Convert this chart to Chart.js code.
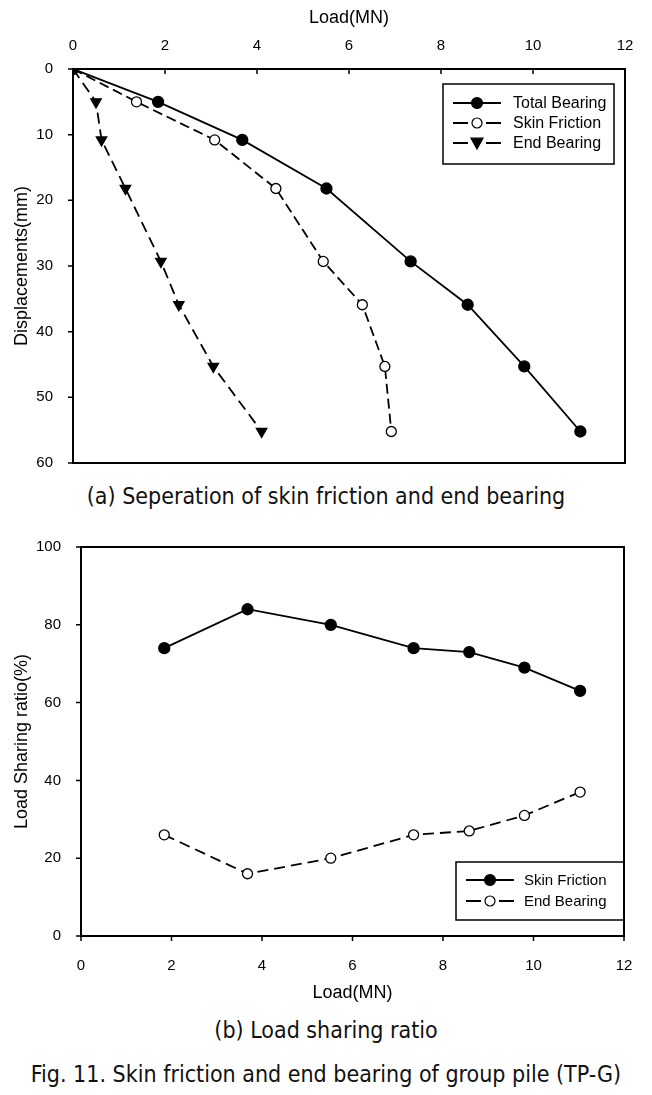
<!DOCTYPE html>
<html>
<head>
<meta charset="utf-8">
<script src="https://cdn.jsdelivr.net/npm/chart.js@4.4.0/dist/chart.umd.min.js"></script>
<style>
body { margin:0; background:#fff; width:652px; height:1095px; position:relative; overflow:hidden; }
.wrap { position:absolute; left:0; width:652px; }
.cap { position:absolute; left:0; width:652px; text-align:center; font-family:"DejaVu Sans Condensed","Liberation Sans Narrow",sans-serif; font-size:23px; line-height:27px; color:#111; white-space:nowrap; }
</style>
</head>
<body>
<div class="wrap" style="top:0;height:480px"><canvas id="chartTop"></canvas></div>
<div class="cap" style="top:483px">(a) Seperation of skin friction and end bearing</div>
<div class="wrap" style="top:510px;height:500px"><canvas id="chartBottom"></canvas></div>
<div class="cap" style="top:1017px">(b) Load sharing ratio</div>
<div class="cap" style="top:1061px">Fig. 11. Skin friction and end bearing of group pile (TP-G)</div>
<script>
// (a) load-displacement
const displacements = [0, 5.0, 10.8, 18.2, 29.3, 35.9, 45.3, 55.2];
const totalBearing = [0, 1.85, 3.68, 5.51, 7.34, 8.58, 9.81, 11.03];
const skinFriction = [0, 1.38, 3.08, 4.41, 5.44, 6.29, 6.78, 6.92];
const endBearing = [0, 0.5, 0.62, 1.14, 1.91, 2.3, 3.05, 4.1];

// (b) load sharing ratio
const loadSteps = [1.84, 3.68, 5.52, 7.35, 8.58, 9.8, 11.03];
const skinRatio = [74, 84, 80, 74, 73, 69, 63];
const endRatio = [26, 16, 20, 26, 27, 31, 37];

const tickFont = { family: '"Liberation Sans", Arial, sans-serif', size: 15 };
const titleFont = { family: '"Liberation Sans", Arial, sans-serif', size: 18 };

function pts(xs, ys) {
    return xs.map((x, i) => ({ x: x, y: ys[i] }));
}

// box round the plot area + short tick marks
const frameTicks = {
    id: 'frameTicks',
    afterDraw(chart, args, opts) {
        const { ctx, chartArea: a, scales } = chart;
        ctx.save();
        ctx.strokeStyle = '#000';
        ctx.lineWidth = 2;
        ctx.strokeRect(a.left, a.top, a.right - a.left, a.bottom - a.top);
        ctx.lineWidth = 1.5;
        const tl = 5;
        ctx.beginPath();
        scales.x.ticks.forEach(t => {
            const px = scales.x.getPixelForValue(t.value);
            if (opts.xTop) { ctx.moveTo(px, a.top); ctx.lineTo(px, a.top + tl); }
            else { ctx.moveTo(px, a.bottom); ctx.lineTo(px, a.bottom + tl); }
        });
        scales.y.ticks.forEach(t => {
            const py = scales.y.getPixelForValue(t.value);
            ctx.moveTo(a.left - tl, py); ctx.lineTo(a.left, py);
        });
        ctx.stroke();
        ctx.restore();
    }
};

// boxed legend inside the plot
const boxLegend = {
    id: 'boxLegend',
    afterDraw(chart, args, opts) {
        const ctx = chart.ctx;
        ctx.save();
        ctx.strokeStyle = '#000';
        ctx.fillStyle = '#000';
        ctx.lineWidth = 1.5;
        ctx.strokeRect(opts.x, opts.y, opts.w, opts.h);
        ctx.font = opts.fontSize + 'px "Liberation Sans", Arial, sans-serif';
        ctx.textBaseline = 'middle';
        chart.data.datasets.forEach((ds, i) => {
            const cy = opts.y + opts.firstRow + i * opts.rowH;
            const x0 = opts.x + 10, x1 = x0 + 48, mx = (x0 + x1) / 2;
            ctx.lineWidth = ds.borderWidth;
            ctx.beginPath();
            if (ds.borderDash && ds.borderDash.length) {
                ctx.moveTo(x0, cy); ctx.lineTo(mx - 9, cy);
                ctx.moveTo(mx + 9, cy); ctx.lineTo(x1, cy);
            } else {
                ctx.moveTo(x0, cy); ctx.lineTo(x1, cy);
            }
            ctx.stroke();
            ctx.lineWidth = 1.2;
            ctx.beginPath();
            const r = ds.pointRadius;
            if (ds.pointStyle === 'triangle') {
                ctx.moveTo(mx - r, cy - r * 0.8);
                ctx.lineTo(mx + r, cy - r * 0.8);
                ctx.lineTo(mx, cy + r);
                ctx.closePath();
            } else {
                ctx.arc(mx, cy, r, 0, Math.PI * 2);
            }
            ctx.fillStyle = ds.pointBackgroundColor;
            ctx.fill();
            ctx.stroke();
            ctx.fillStyle = '#000';
            ctx.fillText(ds.label, opts.x + opts.textX, cy + 1);
        });
        ctx.restore();
    }
};

function series(label, xs, ys, opts) {
    return Object.assign({
        label: label,
        data: pts(xs, ys),
        showLine: true,
        borderColor: '#000',
        borderWidth: 1.8,
        pointRadius: 5.5,
        pointBorderColor: '#000',
        pointBorderWidth: 1.3,
        pointBackgroundColor: '#000',
        pointStyle: 'circle',
        tension: 0
    }, opts);
}

new Chart(document.getElementById('chartTop'), {
    type: 'scatter',
    data: {
        datasets: [
            series('Total Bearing', totalBearing, displacements, {}),
            series('Skin Friction', skinFriction, displacements, { borderDash: [10, 5], pointBackgroundColor: '#fff', pointRadius: 5 }),
            series('End Bearing', endBearing, displacements, { borderDash: [11, 6], pointStyle: 'triangle', pointRotation: 180, pointRadius: 6 })
        ]
    },
    plugins: [frameTicks, boxLegend],
    options: {
        responsive: true,
        maintainAspectRatio: false,
        animation: false,
        layout: { padding: { left: 0, top: 0, right: 27, bottom: 17 } },
        scales: {
            x: {
                type: 'linear', position: 'top', min: 0, max: 12,
                ticks: { stepSize: 2, color: '#000', font: tickFont, padding: 6, maxRotation: 0 },
                grid: { display: false }, border: { display: false },
                title: { display: true, text: 'Load(MN)', color: '#000', font: titleFont, padding: { top: 7, bottom: 0 } },
                afterFit: s => { s.height = 69; }
            },
            y: {
                type: 'linear', reverse: true, min: 0, max: 60,
                ticks: { stepSize: 10, color: '#000', font: tickFont, padding: 12 },
                grid: { display: false }, border: { display: false },
                title: { display: true, text: 'Displacements(mm)', color: '#000', font: titleFont, padding: { top: 11, bottom: 0 } },
                afterFit: s => { s.width = 73; s.paddingTop = 0; s.paddingBottom = 0; }
            }
        },
        plugins: {
            legend: { display: false },
            tooltip: { enabled: false },
            frameTicks: { xTop: true },
            boxLegend: { x: 443, y: 84, w: 171, h: 80, firstRow: 19, rowH: 20, textX: 70, fontSize: 16 }
        }
    }
});

new Chart(document.getElementById('chartBottom'), {
    type: 'scatter',
    data: {
        datasets: [
            series('Skin Friction', loadSteps, skinRatio, {}),
            series('End Bearing', loadSteps, endRatio, { borderDash: [11, 6], pointBackgroundColor: '#fff', pointRadius: 5 })
        ]
    },
    plugins: [frameTicks, boxLegend],
    options: {
        responsive: true,
        maintainAspectRatio: false,
        animation: false,
        layout: { padding: { left: 0, top: 37, right: 28, bottom: 0 } },
        scales: {
            x: {
                type: 'linear', position: 'bottom', min: 0, max: 12,
                ticks: { stepSize: 2, color: '#000', font: tickFont, padding: 13, maxRotation: 0 },
                grid: { display: false }, border: { display: false },
                title: { display: true, text: 'Load(MN)', color: '#000', font: titleFont, padding: { top: 0, bottom: 6 } },
                afterFit: s => { s.height = 74; }
            },
            y: {
                type: 'linear', min: 0, max: 100,
                ticks: { stepSize: 20, color: '#000', font: tickFont, padding: 12 },
                grid: { display: false }, border: { display: false },
                title: { display: true, text: 'Load Sharing ratio(%)', color: '#000', font: titleFont, padding: { top: 11, bottom: 0 } },
                afterFit: s => { s.width = 81; }
            }
        },
        plugins: {
            legend: { display: false },
            tooltip: { enabled: false },
            frameTicks: { xTop: false },
            boxLegend: { x: 456, y: 352, w: 168, h: 58, firstRow: 18, rowH: 21, textX: 68, fontSize: 15 }
        }
    }
});
</script>
</body>
</html>
